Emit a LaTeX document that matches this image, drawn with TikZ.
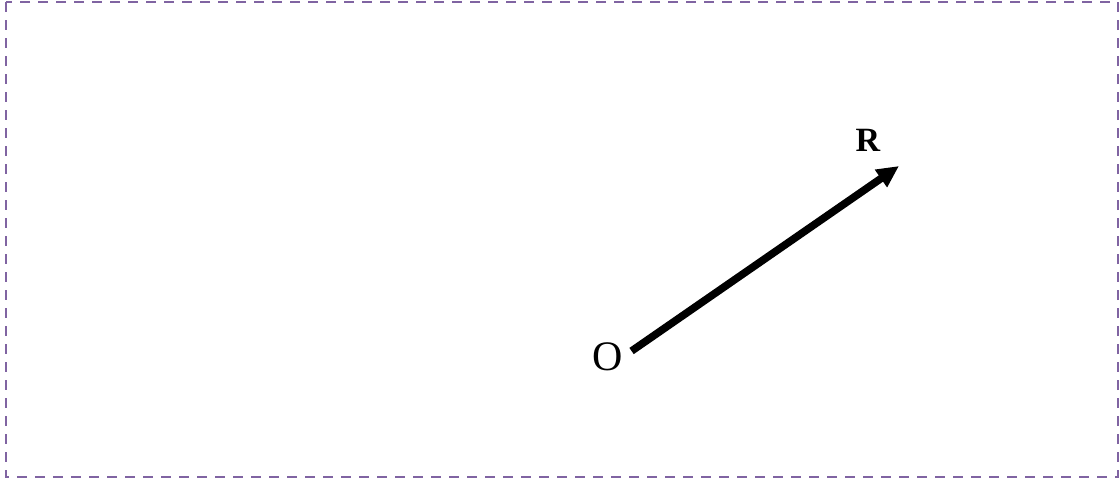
\documentclass[tikz,border=0pt]{standalone}
\usepackage{fontspec}
\setmainfont{Liberation Serif}
\usepackage{tikz}
\usetikzlibrary{arrows.meta,positioning}
\definecolor{framepurple}{HTML}{8064A2}

\begin{document}
\begin{tikzpicture}[
    x=0.5pt, y=-0.5pt,
    frame/.style={draw=framepurple, line width=1.1pt, dash pattern=on 5pt off 4pt},
    label/.style={inner sep=0pt, font=\fontsize{21}{23}\selectfont},
    vec/.style={-{Triangle[length=11pt, width=10pt]}, line width=3.8pt, line cap=butt}
]
\useasboundingbox (0,0) rectangle (1120,479);

% outer dashed frame
\draw[frame] (6,2) rectangle (1118,477);

% origin and vector
\node[label] (origin) at (608,357) {O};
\coordinate (tip) at (899,166);
\node[label, font=\fontsize{17}{19}\selectfont\bfseries] (rlabel) at (868,140) {R};

\draw[vec] ([xshift=4pt, yshift=3pt]origin.east) -- (tip);

\end{tikzpicture}
\end{document}
